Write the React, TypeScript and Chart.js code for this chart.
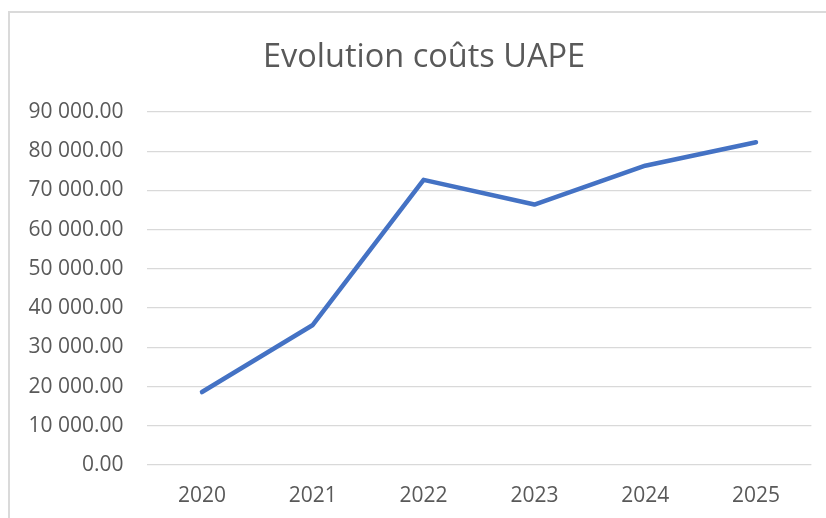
import React, { useEffect, useRef } from "react";
import { Chart, registerables } from "chart.js";

Chart.register(...registerables);

const titleText = "Evolution coûts UAPE";
const years = ["2020", "2021", "2022", "2023", "2024", "2025"];
const costs = [18600, 35700, 72700, 66400, 76300, 82300];
const yMin = 0;
const yMax = 90000;
const yStep = 10000;

function fmt(v: number): string {
  const [i, d] = v.toFixed(2).split(".");
  return i.replace(/\B(?=(\d{3})+(?!\d))/g, " ") + "." + d;
}

const titlePlugin = {
  id: "centeredTitle",
  afterDraw(chart: any) {
    const ctx = chart.ctx;
    ctx.save();
    ctx.font = "normal 32.5px 'Open Sans'";
    ctx.fillStyle = "#595959";
    ctx.textAlign = "center";
    ctx.textBaseline = "alphabetic";
    ctx.fillText(titleText, 424, 67);
    ctx.restore();
  },
};

export default function App() {
  const ref = useRef<HTMLCanvasElement | null>(null);

  useEffect(() => {
    if (!ref.current) return;
    const chart = new Chart(ref.current, {
      type: "line",
      data: {
        labels: years,
        datasets: [
          {
            data: costs,
            borderColor: "#4472C4",
            backgroundColor: "#4472C4",
            borderWidth: 4.5,
            pointRadius: 0,
            borderCapStyle: "round",
            borderJoinStyle: "round",
            tension: 0,
          },
        ],
      },
      options: {
        animation: false,
        responsive: false,
        maintainAspectRatio: false,
        layout: { padding: { left: 0, right: 14.6, top: 112, bottom: 0 } },
        plugins: {
          legend: { display: false },
          tooltip: { enabled: false },
          title: { display: false },
        },
        scales: {
          x: {
            offset: true,
            grid: { display: false, drawTicks: false },
            border: { display: false },
            ticks: {
              color: "#595959",
              font: { family: "'Open Sans'", size: 21 },
              padding: 18.5,
              maxRotation: 0,
            },
            afterFit: (s: any) => {
              s.height = 53;
            },
          },
          y: {
            min: yMin,
            max: yMax,
            grid: { color: "#d9d9d9", lineWidth: 1.3, drawTicks: false },
            border: { display: false },
            ticks: {
              stepSize: yStep,
              color: "#595959",
              font: { family: "'Open Sans'", size: 21 },
              padding: 23,
              callback: (v: any) => fmt(Number(v)),
            },
            afterFit: (s: any) => {
              s.width = 146.6;
            },
          },
        },
      },
      plugins: [titlePlugin],
    });
    return () => chart.destroy();
  }, []);

  return (
    <div
      style={{
        position: "fixed",
        left: 0,
        top: 0,
        width: 826,
        height: 518,
        background: "#ffffff",
        overflow: "hidden",
      }}
    >
      <div
        style={{
          position: "absolute",
          left: 8,
          top: 11,
          width: 900,
          height: 600,
          borderLeft: "2px solid #dadada",
          borderTop: "2px solid #dadada",
          boxSizing: "border-box",
        }}
      />
      <canvas
        ref={ref}
        width={826}
        height={518}
        style={{ position: "absolute", left: 0, top: 0, width: 826, height: 518 }}
      />
    </div>
  );
}
